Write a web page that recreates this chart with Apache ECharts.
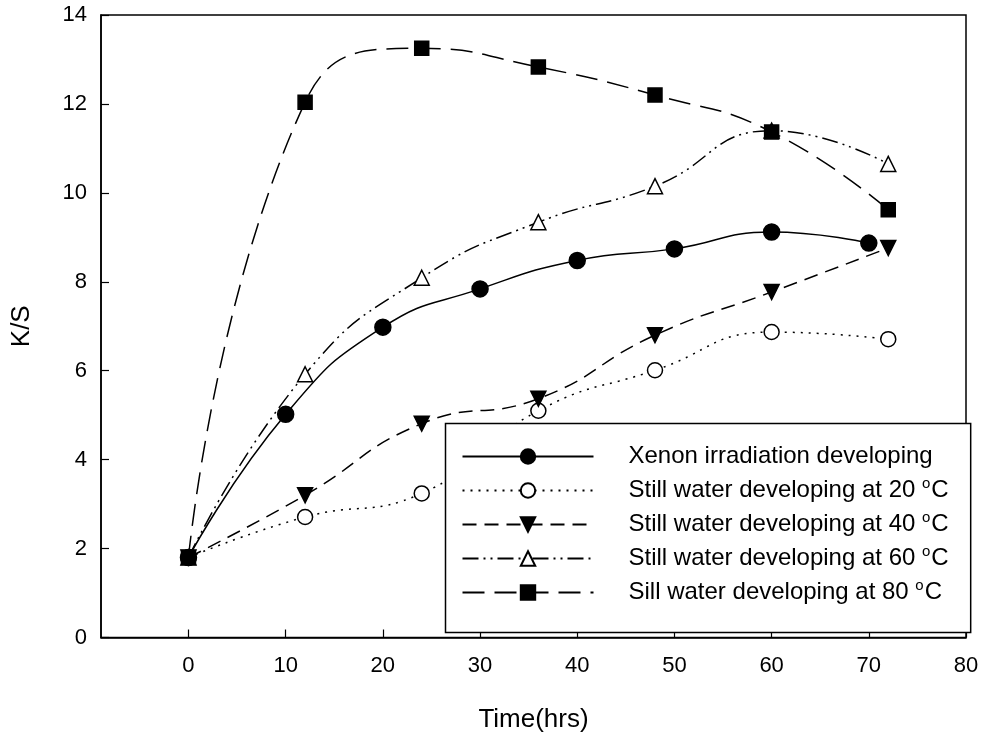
<!DOCTYPE html>
<html>
<head>
<meta charset="utf-8">
<script src="https://cdn.jsdelivr.net/npm/echarts@6/dist/echarts.min.js"></script>
<style>
html,body{margin:0;padding:0;background:#fff;}
#chart{width:985px;height:739px;}
</style>
</head>
<body>
<div id="chart"></div>
<script>
// ---- data ----
const xenonTime = [0, 10, 20, 30, 40, 50, 60, 70];
const xenonKS   = [1.8, 5.02, 6.98, 7.84, 8.48, 8.74, 9.12, 8.87];
const waterTime = [0, 12, 24, 36, 48, 60, 72];
const water20KS = [1.8, 2.71, 3.24, 5.10, 6.01, 6.87, 6.71];
const water40KS = [1.8, 3.20, 4.81, 5.37, 6.80, 7.77, 8.76];
const water60KS = [1.8, 5.92, 8.09, 9.34, 10.15, 11.40, 10.65];
const water80KS = [1.8, 12.04, 13.25, 12.83, 12.20, 11.37, 9.62];
const xTicks = [0, 10, 20, 30, 40, 50, 60, 70, 80];
const seriesNames = [
  'Xenon irradiation developing',
  'Still water developing at 20 °C',
  'Still water developing at 40 °C',
  'Still water developing at 60 °C',
  'Sill water developing at 80 °C'
];

const pair = (xs, ys) => xs.map((x, i) => [x, ys[i]]);
const FONT = '"Liberation Sans", Arial, sans-serif';

function mkSeries(name, data, symbol, size, filled, dash, rotate) {
  return {
    name: name,
    type: 'line',
    data: data,
    smooth: 0.5,
    symbol: symbol,
    symbolSize: size,
    symbolRotate: rotate || 0,
    showSymbol: true,
    color: '#000',
    lineStyle: { color: '#000', width: 1.5, type: dash },
    itemStyle: {
      color: filled ? '#000' : '#fff',
      borderColor: '#000',
      borderWidth: 1.5
    },
    emphasis: { disabled: true },
    animation: false,
    z: 3
  };
}

const chart = echarts.init(document.getElementById('chart'));
chart.setOption({
  backgroundColor: '#fff',
  animation: false,
  grid: {
    left: 101, top: 15, width: 865, height: 622.5,
    show: true, borderColor: '#000', borderWidth: 1.5, backgroundColor: 'transparent'
  },
  xAxis: {
    type: 'value',
    min: -9, max: 80,
    name: 'Time(hrs)',
    nameLocation: 'middle',
    nameGap: 69,
    nameTextStyle: { fontFamily: FONT, fontSize: 26, color: '#000' },
    axisLine: { show: true, onZero: false, lineStyle: { color: '#000', width: 1.5 } },
    axisTick: { show: true, inside: true, length: 8, customValues: xTicks, lineStyle: { color: '#000', width: 1.2 } },
    axisLabel: { customValues: xTicks, fontFamily: FONT, fontSize: 22, color: '#000', margin: 17 },
    splitLine: { show: false }
  },
  yAxis: {
    type: 'value',
    min: 0, max: 14, interval: 2,
    name: 'K/S',
    nameLocation: 'middle',
    nameGap: 66,
    nameTextStyle: { fontFamily: FONT, fontSize: 26, color: '#000' },
    axisLine: { show: true, onZero: false, lineStyle: { color: '#000', width: 1.5 } },
    axisTick: { show: true, inside: true, length: 8, lineStyle: { color: '#000', width: 1.2 } },
    axisLabel: { fontFamily: FONT, fontSize: 22, color: '#000', margin: 14 },
    splitLine: { show: false }
  },
  legend: {
    orient: 'vertical',
    left: 445.5,
    top: 423.5,
    padding: [19, 22, 26, 16],
    backgroundColor: '#fff',
    borderColor: '#000',
    borderWidth: 1.5,
    itemWidth: 131,
    itemHeight: 18,
    itemGap: 6,
    selectedMode: false,
    data: seriesNames,
    formatter: function (name) {
      const m = name.match(/^(.*) °C$/);
      if (m) return m[1] + ' {sup|o}C';
      return name;
    },
    textStyle: {
      fontFamily: FONT, fontSize: 24, color: '#000', lineHeight: 28,
      padding: [0, 0, 0, 30],
      rich: {
        sup: { fontFamily: FONT, fontSize: 15, color: '#000', lineHeight: 16, verticalAlign: 'top', padding: [0, 1, 10, 0] }
      }
    },
    z: 10
  },
  series: [
    mkSeries(seriesNames[0], pair(xenonTime, xenonKS), 'circle', 16, true, 'solid'),
    mkSeries(seriesNames[1], pair(waterTime, water20KS), 'circle', 15, false, [2, 6]),
    mkSeries(seriesNames[2], pair(waterTime, water40KS), 'triangle', 15, true, [14, 8], 180),
    mkSeries(seriesNames[3], pair(waterTime, water60KS), 'triangle', 15, false, [16, 5, 2, 5, 2, 5]),
    mkSeries(seriesNames[4], pair(waterTime, water80KS), 'rect', 14, true, [22, 10])
  ]
});
</script>
</body>
</html>
